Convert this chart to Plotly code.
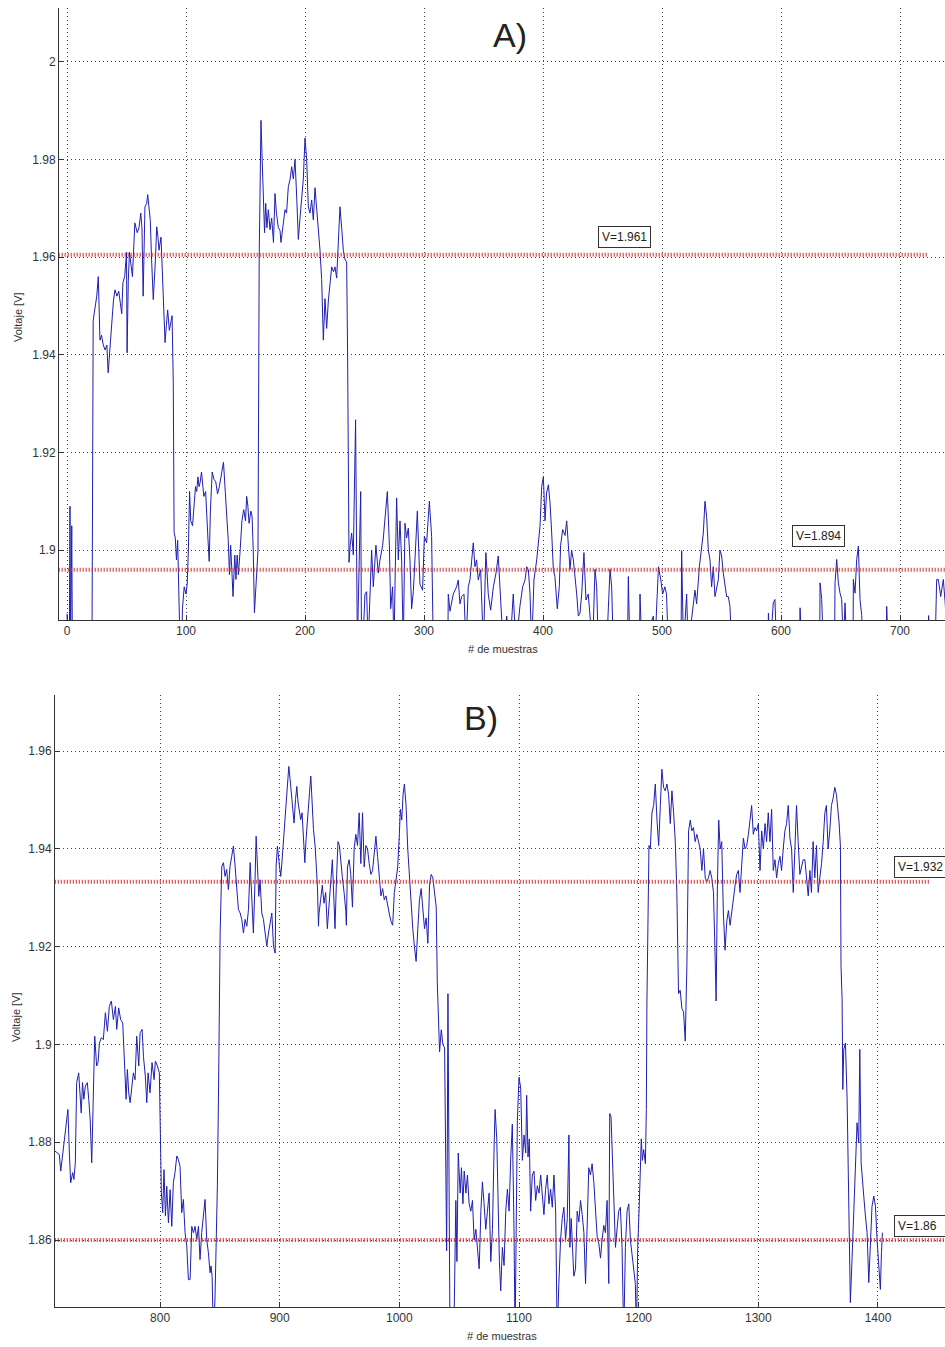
import plotly.graph_objects as go

# ---------------- Panel A data ----------------
a_samples = [0, 1, 2, 2.5, 3, 4, 4.5, 21, 22, 24, 25, 26.3, 27.7, 29, 30.5, 32, 33.5, 34.6, 36, 37.5, 39, 40.3, 42, 43.5, 45, 46, 47, 48.5, 50, 50.5, 51.5, 52.5, 54, 55, 57, 59, 60.5, 62, 63, 64, 65.5, 67, 67.8, 69, 70, 71, 72.5, 74, 75.4, 76.5, 77.3, 79, 80, 81, 82.4, 83.5, 84.6, 86, 87.4, 88.3, 89.3, 90, 91, 92, 93, 94, 95, 96.5, 97, 98.5, 100, 101, 102, 103, 104, 105.5, 107, 108, 109, 110, 111, 112, 113, 114, 115, 116.5, 117.5, 118.5, 119.5, 120.5, 122, 123.5, 125, 126.5, 128, 130, 131.5, 133, 134.5, 135.5, 136.5, 137.5, 138.5, 139.5, 141, 142, 143, 144, 145.5, 147, 148.5, 150, 151, 152, 153, 154.5, 155.5, 156.5, 157.5, 158.5, 159.5, 160.5, 161.5, 163, 164, 165, 166, 167, 168, 169.2, 170.6, 172, 173.5, 174.8, 176, 177.6, 179, 179.8, 181.8, 183.2, 184.5, 186, 187.5, 188.8, 190.2, 191.6, 193, 194.4, 195.8, 197.2, 198.6, 200, 201.4, 202.8, 204.2, 205.6, 207, 208.4, 209.8, 211.2, 212.6, 214, 215.4, 216.8, 218.2, 219.6, 221, 222.4, 224, 225.2, 226.6, 228, 229.4, 230.8, 232.2, 233.6, 235, 235.8, 236.4, 237, 238, 239.2, 240.6, 242.5, 244, 245.5, 246.8, 247.5, 248.5, 250.4, 251.8, 253, 256, 257.4, 259.6, 261.6, 263, 265.3, 267.2, 269.2, 270.9, 272, 273.6, 274.8, 275.6, 277, 278.4, 279.8, 281.2, 282.6, 284, 285.4, 286.8, 288.2, 289.6, 291, 292.4, 294.4, 296.6, 298.8, 300.3, 302.2, 304.5, 306.4, 307.8, 320, 320.4, 321.8, 324.6, 327.4, 328.8, 330.2, 331.6, 333.6, 335.3, 337.2, 338.6, 341.4, 342.8, 344.2, 345.6, 347.6, 349.9, 352, 354, 356, 358.3, 360.5, 362.4, 363.8, 366.6, 369.5, 372.3, 375, 377.3, 380.6, 382.9, 384.9, 386.3, 387.7, 389.1, 390.5, 392.4, 394.7, 396, 397.5, 398.9, 400.3, 401.7, 403, 404.5, 405.9, 407.3, 408.7, 410, 412, 413.7, 414.8, 416.5, 418.5, 419.9, 421.3, 422.7, 424, 425.5, 428.3, 429.7, 431.1, 432.5, 434.4, 436.1, 438, 439.5, 441.7, 443.7, 445.1, 446.5, 453.5, 456.3, 457.7, 459.1, 471, 471.7, 473, 481, 481.5, 483, 492.7, 494, 497, 499, 500.5, 502.4, 503.8, 505.3, 516, 516.5, 518, 520.7, 522, 527.7, 529.1, 531.4, 533.4, 534.7, 536.1, 537.5, 538.9, 540.3, 541.7, 543.1, 544.5, 547.3, 548.7, 550.1, 551.5, 552.9, 554.3, 555.7, 557.1, 558.5, 589, 589.4, 591, 593.5, 594.9, 596.3, 615.5, 616, 617.5, 632.5, 632.8, 634.2, 635.6, 645, 645.4, 646.8, 648.2, 649.6, 651, 652.4, 653.8, 655.2, 660.5, 660.8, 662.2, 663.6, 665, 666.4, 667.8, 669, 688.5, 688.8, 690, 723.5, 724, 725.5, 729.5, 730.8, 732.2, 734.2, 736.4, 738, 740]
a_voltage = [1.887, 1.880, 1.880, 1.909, 1.880, 1.905, 1.880, 1.880, 1.947, 1.950, 1.952, 1.956, 1.943, 1.944, 1.942, 1.941, 1.942, 1.9363, 1.941, 1.9466, 1.951, 1.9533, 1.952, 1.953, 1.950, 1.9484, 1.9548, 1.956, 1.961, 1.9404, 1.955, 1.961, 1.958, 1.956, 1.967, 1.965, 1.966, 1.969, 1.966, 1.952, 1.9703, 1.971, 1.9728, 1.970, 1.9675, 1.960, 1.9513, 1.958, 1.9662, 1.964, 1.9614, 1.9641, 1.958, 1.950, 1.9425, 1.946, 1.9492, 1.945, 1.947, 1.948, 1.9343, 1.9036, 1.9025, 1.898, 1.902, 1.892, 1.880, 1.880, 1.888, 1.8925, 1.891, 1.893, 1.900, 1.912, 1.906, 1.905, 1.909, 1.913, 1.912, 1.915, 1.913, 1.914, 1.916, 1.9125, 1.911, 1.912, 1.905, 1.902, 1.8977, 1.908, 1.916, 1.9145, 1.914, 1.9115, 1.913, 1.9155, 1.918, 1.912, 1.906, 1.902, 1.895, 1.901, 1.896, 1.8905, 1.899, 1.894, 1.899, 1.895, 1.900, 1.906, 1.9083, 1.906, 1.911, 1.909, 1.9055, 1.908, 1.907, 1.900, 1.8872, 1.892, 1.895, 1.900, 1.960, 1.988, 1.980, 1.9724, 1.965, 1.971, 1.966, 1.9697, 1.9656, 1.968, 1.963, 1.973, 1.969, 1.966, 1.9655, 1.963, 1.967, 1.9697, 1.969, 1.9744, 1.976, 1.9785, 1.976, 1.980, 1.9725, 1.9636, 1.968, 1.9723, 1.976, 1.9844, 1.980, 1.9703, 1.969, 1.9717, 1.9676, 1.9742, 1.970, 1.966, 1.9614, 1.9554, 1.943, 1.9515, 1.9454, 1.951, 1.954, 1.958, 1.957, 1.958, 1.9557, 1.964, 1.9703, 1.966, 1.9614, 1.9595, 1.959, 1.940, 1.909, 1.8975, 1.901, 1.9035, 1.899, 1.9267, 1.880, 1.8995, 1.912, 1.880, 1.880, 1.891, 1.8915, 1.880, 1.900, 1.8925, 1.901, 1.8953, 1.898, 1.901, 1.906, 1.912, 1.901, 1.888, 1.8925, 1.880, 1.8925, 1.9107, 1.898, 1.906, 1.898, 1.880, 1.9055, 1.9025, 1.9045, 1.898, 1.888, 1.8915, 1.898, 1.908, 1.893, 1.8918, 1.9028, 1.9015, 1.910, 1.9028, 1.880, 1.880, 1.891, 1.8875, 1.891, 1.8925, 1.8939, 1.889, 1.8905, 1.891, 1.880, 1.8925, 1.8939, 1.9015, 1.8966, 1.898, 1.8939, 1.896, 1.880, 1.8995, 1.891, 1.8877, 1.8925, 1.8953, 1.8988, 1.8925, 1.880, 1.8865, 1.880, 1.891, 1.880, 1.8885, 1.8925, 1.8939, 1.8966, 1.896, 1.891, 1.880, 1.8939, 1.898, 1.9008, 1.9049, 1.913, 1.915, 1.906, 1.9117, 1.9134, 1.9097, 1.9035, 1.896, 1.8946, 1.888, 1.8925, 1.901, 1.9042, 1.903, 1.906, 1.900, 1.896, 1.900, 1.898, 1.891, 1.8865, 1.8871, 1.891, 1.8995, 1.8898, 1.891, 1.8865, 1.880, 1.8961, 1.8925, 1.880, 1.880, 1.8961, 1.8925, 1.880, 1.880, 1.8946, 1.880, 1.880, 1.891, 1.880, 1.8865, 1.880, 1.8966, 1.8939, 1.891, 1.8925, 1.891, 1.880, 1.880, 1.8999, 1.880, 1.891, 1.880, 1.8918, 1.889, 1.8966, 1.9015, 1.9035, 1.9100, 1.9069, 1.9001, 1.898, 1.8925, 1.8966, 1.8905, 1.8939, 1.900, 1.8988, 1.8953, 1.8925, 1.8905, 1.8905, 1.8885, 1.880, 1.880, 1.8871, 1.880, 1.8892, 1.8899, 1.880, 1.880, 1.8882, 1.880, 1.880, 1.8933, 1.8899, 1.880, 1.880, 1.8933, 1.8981, 1.8933, 1.8912, 1.8899, 1.880, 1.8892, 1.880, 1.880, 1.894, 1.8912, 1.8981, 1.9008, 1.8899, 1.8866, 1.880, 1.880, 1.8885, 1.880, 1.880, 1.8866, 1.880, 1.880, 1.894, 1.894, 1.8905, 1.894, 1.889, 1.880]

# ---------------- Panel B data ----------------
b_samples = [712.2, 714, 715.8, 717, 718.5, 719.7, 721.4, 723, 724.2, 725.3, 727, 728, 729.2, 730.3, 732, 733, 734.1, 735.2, 736.3, 737.6, 739.2, 740.4, 741.6, 742.9, 744.3, 745.4, 747, 748.2, 749.3, 751, 752.6, 754.3, 756, 757.6, 759.3, 761, 762.7, 763.8, 765.4, 767.1, 768.8, 769.9, 771.6, 772.7, 773.8, 775, 776.6, 777.7, 779.1, 780.5, 782.2, 783.3, 785, 786.1, 787.7, 788.9, 790, 791.6, 793.3, 795, 796.1, 797.8, 799.4, 800, 801.1, 802.2, 803.3, 804.5, 805.6, 807, 808.4, 809.8, 811.1, 812.5, 814, 815.3, 816.7, 818.1, 819.5, 820.9, 822.3, 823.7, 825.1, 826.5, 827.9, 829.3, 830.7, 832.1, 833.4, 834.8, 836.2, 837.6, 839, 840.4, 841.8, 842.6, 843.5, 844.6, 845.9, 846.8, 847.9, 848.8, 849.9, 850.2, 851.6, 853, 854.3, 855.7, 857.1, 858.5, 859.9, 861.3, 862.7, 864.1, 865.5, 866.9, 868.3, 869.7, 871.1, 872.5, 873.9, 875.3, 876.7, 878, 879.4, 880.3, 881.4, 882.5, 883.6, 885, 886.4, 887.8, 889.2, 890.6, 892, 893.4, 894.8, 896.2, 897, 898.1, 899.8, 900.9, 902, 903.7, 905.4, 906.5, 907.6, 908.7, 909.8, 911, 912, 913.2, 914.3, 915.4, 916.5, 917.6, 918.7, 919.8, 921, 922, 923.2, 924.9, 926, 927.1, 928.2, 929.6, 930.4, 931.5, 932.4, 932.8, 934.2, 935.6, 937, 938.4, 939.8, 941.2, 942.6, 944, 945.4, 946.2, 947.6, 948.7, 949.9, 951, 952.4, 953.8, 955.2, 955.7, 956.6, 958, 959.4, 960.8, 962.2, 963.6, 965, 966.4, 967.8, 969.2, 970.6, 972, 973.4, 974.8, 976.2, 977.6, 979, 980.4, 981.8, 983.2, 984.6, 986, 987.4, 988.8, 990.2, 991.6, 993, 994.4, 995.8, 997.2, 998.6, 1000, 1000.8, 1002, 1003.1, 1004.2, 1005.6, 1007, 1008.4, 1009.8, 1011.2, 1012.6, 1014, 1015.4, 1016.8, 1018.2, 1019.6, 1021, 1022.4, 1023.8, 1025.2, 1026.6, 1028, 1029.4, 1030.8, 1031.7, 1032.8, 1033.6, 1035, 1036.4, 1037.8, 1038.7, 1039.5, 1040.1, 1040.6, 1041.5, 1042.3, 1045.5, 1046.2, 1047.2, 1048.1, 1049.2, 1050.8, 1051.9, 1053.1, 1054.2, 1055.6, 1056.9, 1058.3, 1059.7, 1061.1, 1062.5, 1063.9, 1065.3, 1066.7, 1068.1, 1069.4, 1070.8, 1072.2, 1073.6, 1075, 1076.4, 1077.8, 1079.2, 1080, 1081.4, 1082.5, 1083.6, 1084.7, 1086.1, 1087.5, 1088.9, 1090.3, 1091.7, 1093.1, 1094.4, 1095.8, 1096.7, 1097.8, 1098.6, 1100, 1101.4, 1102.8, 1104.2, 1105.6, 1106.4, 1107.5, 1108.6, 1109.7, 1111.1, 1112.5, 1113.9, 1115.3, 1116.7, 1118.1, 1119.4, 1120.8, 1122.2, 1123.6, 1125, 1126.4, 1127.8, 1129.2, 1130.6, 1131.9, 1133.3, 1134.7, 1136.1, 1137.5, 1138.9, 1140.3, 1141.7, 1142.5, 1143.6, 1144.7, 1145.8, 1147.2, 1148.6, 1150, 1151.4, 1152.8, 1154.2, 1155.6, 1156.9, 1158.3, 1159.7, 1161.1, 1162.5, 1163.9, 1165.3, 1166.7, 1168.1, 1169.4, 1170.8, 1172.2, 1173.6, 1175, 1175.8, 1176.9, 1178.1, 1179.2, 1180.6, 1181.9, 1183.3, 1184.7, 1186.1, 1187.5, 1188.9, 1190.3, 1191.7, 1193.1, 1194.4, 1195.8, 1197.2, 1198.1, 1199.2, 1200.3, 1201.4, 1202.2, 1203.1, 1204.2, 1205.6, 1206.4, 1206.9, 1207.8, 1208.6, 1209.7, 1211.1, 1212.5, 1213.9, 1215.3, 1216.7, 1218.1, 1219.4, 1220.8, 1222.2, 1223.6, 1225, 1226.4, 1227.8, 1229.2, 1230.6, 1231.9, 1233.3, 1234.7, 1236.1, 1237.5, 1238.9, 1240.3, 1241.7, 1243.1, 1244.4, 1245.8, 1247.2, 1248.6, 1250, 1251.4, 1252.8, 1254.2, 1255.6, 1256.9, 1258.3, 1259.7, 1261.1, 1262.5, 1263.9, 1264.7, 1265.8, 1266.9, 1268.1, 1269.4, 1270.8, 1272.2, 1273.6, 1275, 1276.4, 1277.8, 1279.2, 1280.6, 1281.9, 1283.3, 1284.7, 1286.1, 1287.5, 1288.9, 1290.3, 1291.7, 1293.1, 1294.4, 1295.8, 1297.2, 1298.6, 1300, 1301.4, 1302.8, 1304.2, 1305.6, 1306.9, 1308.3, 1309.7, 1311.1, 1312.5, 1313.9, 1315.3, 1316.7, 1318.1, 1319.4, 1320.8, 1322.2, 1323.6, 1325, 1326.4, 1327.8, 1329.2, 1330.6, 1331.9, 1333.3, 1334.7, 1336.1, 1337.5, 1338.9, 1340.3, 1341.7, 1343.1, 1344.4, 1345.8, 1347.2, 1348.6, 1350, 1351.4, 1352.8, 1354.2, 1355.6, 1356.9, 1358.3, 1359.7, 1361.1, 1362.5, 1363.9, 1365.3, 1366.7, 1367.5, 1368.6, 1369.1, 1370, 1370.6, 1371.4, 1372.8, 1374.2, 1375, 1375.8, 1376.9, 1378.3, 1379.7, 1381.1, 1382.5, 1383.9, 1384.8, 1385.9, 1387, 1388.1, 1389.5, 1390.9, 1392.3, 1393.7, 1395, 1396.5, 1397.9, 1399.2, 1400.6, 1402, 1402.9, 1403.7]
b_voltage = [1.8782, 1.8778, 1.8775, 1.8741, 1.8772, 1.8799, 1.8826, 1.8867, 1.8778, 1.8717, 1.8738, 1.8724, 1.8758, 1.8922, 1.8942, 1.8894, 1.886, 1.8922, 1.8888, 1.8915, 1.8922, 1.8888, 1.8847, 1.8758, 1.8915, 1.9017, 1.8956, 1.8963, 1.9003, 1.9014, 1.901, 1.9065, 1.9027, 1.9078, 1.9089, 1.9051, 1.9078, 1.9031, 1.9075, 1.9051, 1.9044, 1.899, 1.8888, 1.8949, 1.8901, 1.8881, 1.8922, 1.8942, 1.8928, 1.9017, 1.8956, 1.9024, 1.9031, 1.8976, 1.8935, 1.8881, 1.8942, 1.8901, 1.8963, 1.8928, 1.8966, 1.8956, 1.8942, 1.8833, 1.8697, 1.8656, 1.8744, 1.8649, 1.871, 1.8635, 1.8703, 1.8628, 1.8717, 1.8738, 1.8772, 1.8765, 1.8751, 1.8656, 1.8683, 1.8615, 1.8588, 1.8519, 1.8519, 1.8628, 1.8615, 1.8628, 1.8601, 1.8628, 1.856, 1.8615, 1.8649, 1.8683, 1.8601, 1.8574, 1.8533, 1.8547, 1.8526, 1.840, 1.8479, 1.856, 1.871, 1.8888, 1.9112, 1.9228, 1.9365, 1.9372, 1.9344, 1.9358, 1.9317, 1.9365, 1.9385, 1.9406, 1.9365, 1.9324, 1.9276, 1.9269, 1.9256, 1.9228, 1.9256, 1.9242, 1.9276, 1.9372, 1.9303, 1.9228, 1.9337, 1.9426, 1.9365, 1.9303, 1.9337, 1.9269, 1.9256, 1.9228, 1.9201, 1.9228, 1.9249, 1.9269, 1.9201, 1.9187, 1.9365, 1.9406, 1.9365, 1.9344, 1.9378, 1.9433, 1.9487, 1.9521, 1.9569, 1.9542, 1.9515, 1.9474, 1.9453, 1.9501, 1.9528, 1.9494, 1.9474, 1.946, 1.9474, 1.9419, 1.9372, 1.9419, 1.9467, 1.9515, 1.9549, 1.9487, 1.944, 1.9406, 1.9365, 1.9324, 1.9242, 1.9267, 1.9296, 1.9326, 1.9289, 1.9311, 1.9237, 1.9281, 1.9341, 1.9378, 1.9289, 1.9237, 1.9348, 1.9415, 1.9407, 1.937, 1.9341, 1.9311, 1.9274, 1.9244, 1.9363, 1.9378, 1.9348, 1.9281, 1.94, 1.943, 1.9407, 1.9474, 1.937, 1.9474, 1.9363, 1.9407, 1.94, 1.937, 1.9348, 1.9356, 1.94, 1.9426, 1.9385, 1.9341, 1.9304, 1.9319, 1.9296, 1.9304, 1.9281, 1.9267, 1.9252, 1.9244, 1.9311, 1.9333, 1.9363, 1.943, 1.9481, 1.9459, 1.9511, 1.9533, 1.9489, 1.94, 1.9341, 1.9289, 1.9237, 1.92, 1.917, 1.9237, 1.9296, 1.9319, 1.9267, 1.9237, 1.9259, 1.9207, 1.9326, 1.9348, 1.9341, 1.9304, 1.9281, 1.9126, 1.903, 1.8985, 1.903, 1.9, 1.8993, 1.8733, 1.8578, 1.8807, 1.9104, 1.8733, 1.840, 1.840, 1.8556, 1.8681, 1.8556, 1.8778, 1.8696, 1.8748, 1.8674, 1.8741, 1.8696, 1.8733, 1.8674, 1.8659, 1.8681, 1.86, 1.8622, 1.8585, 1.8541, 1.8659, 1.8719, 1.8674, 1.8622, 1.8659, 1.8696, 1.8556, 1.8622, 1.8793, 1.8867, 1.8807, 1.8659, 1.8556, 1.8496, 1.8585, 1.8548, 1.8659, 1.8704, 1.8659, 1.877, 1.8837, 1.8622, 1.840, 1.8659, 1.8844, 1.8933, 1.8911, 1.8763, 1.8815, 1.8778, 1.8896, 1.877, 1.8807, 1.8659, 1.8733, 1.8741, 1.8681, 1.8711, 1.8696, 1.8733, 1.8689, 1.8652, 1.8704, 1.8733, 1.8674, 1.8704, 1.8667, 1.8733, 1.8659, 1.840, 1.8511, 1.86, 1.8644, 1.8667, 1.86, 1.8644, 1.8815, 1.8585, 1.8644, 1.857, 1.8526, 1.8541, 1.8659, 1.8637, 1.8681, 1.8652, 1.8615, 1.8511, 1.8615, 1.8748, 1.8733, 1.8756, 1.8719, 1.8667, 1.8607, 1.8593, 1.8563, 1.86, 1.863, 1.8615, 1.8681, 1.8511, 1.8859, 1.8852, 1.877, 1.8696, 1.8585, 1.8622, 1.8659, 1.8667, 1.8585, 1.840, 1.8585, 1.8659, 1.8674, 1.86, 1.857, 1.8541, 1.8511, 1.840, 1.8585, 1.8659, 1.8733, 1.8807, 1.8763, 1.8785, 1.8756, 1.8867, 1.9089, 1.9326, 1.9407, 1.94, 1.9474, 1.9489, 1.9533, 1.9459, 1.9407, 1.9489, 1.9563, 1.9526, 1.9519, 1.9533, 1.9511, 1.9452, 1.9519, 1.9474, 1.9415, 1.9311, 1.9104, 1.9111, 1.9074, 1.9067, 1.9007, 1.9163, 1.9437, 1.9459, 1.9437, 1.9444, 1.9415, 1.943, 1.9415, 1.94, 1.9356, 1.94, 1.9341, 1.9333, 1.9341, 1.9356, 1.9341, 1.9311, 1.9178, 1.9089, 1.9326, 1.9459, 1.94, 1.9415, 1.9267, 1.9193, 1.9252, 1.9274, 1.9244, 1.9274, 1.9296, 1.9326, 1.9348, 1.9356, 1.9311, 1.937, 1.9422, 1.94, 1.9407, 1.943, 1.9459, 1.9489, 1.943, 1.9444, 1.9437, 1.9452, 1.9356, 1.9437, 1.94, 1.9452, 1.9415, 1.9474, 1.9415, 1.9481, 1.9356, 1.9378, 1.9341, 1.937, 1.9385, 1.9356, 1.94, 1.9437, 1.9452, 1.9489, 1.9422, 1.94, 1.9311, 1.94, 1.9489, 1.9415, 1.9348, 1.9363, 1.9378, 1.9378, 1.9341, 1.9304, 1.9356, 1.9311, 1.9415, 1.9341, 1.9407, 1.9311, 1.9341, 1.937, 1.9415, 1.9474, 1.9489, 1.94, 1.9437, 1.9489, 1.9504, 1.9526, 1.9511, 1.9474, 1.9453, 1.9406, 1.916, 1.9092, 1.8908, 1.899, 1.9003, 1.8888, 1.8751, 1.8601, 1.8472, 1.856, 1.8669, 1.8772, 1.884, 1.8799, 1.899, 1.8758, 1.8717, 1.869, 1.8649, 1.8615, 1.8513, 1.8615, 1.8669, 1.869, 1.8669, 1.8601, 1.8547, 1.8499, 1.8574, 1.8615]

# ---------------- Threshold levels and labels ----------------
a_levels = [1.9605, 1.896]
a_level_start = [-7, -7]
a_level_end = [723, 745]
a_level_labels = ["V=1.961", "V=1.894"]
a_label_x = [446.5, 609.0]
a_label_y = [1.9642, 1.9029]

b_levels = [1.9333, 1.86]
b_level_start = [712, 712]
b_level_end = [1444, 1460]
b_level_labels = ["V=1.932 ", "V=1.86   "]
b_label_x = [1413.0, 1413.5]
b_label_y = [1.9363, 1.8629]

# ---------------- Ticks ----------------
a_xticks = [0, 100, 200, 300, 400, 500, 600, 700]
a_yticks = [1.9, 1.92, 1.94, 1.96, 1.98, 2.0]
a_ytick_text = ["1.9", "1.92", "1.94", "1.96", "1.98", "2"]
b_xticks = [800, 900, 1000, 1100, 1200, 1300, 1400]
b_yticks = [1.86, 1.88, 1.9, 1.92, 1.94, 1.96]
b_ytick_text = ["1.86", "1.88", "1.9", "1.92", "1.94", "1.96"]

# ---------------- Styling ----------------
W, H = 945, 1347
FONT = "Arial, 'Liberation Sans', sans-serif"
DATA_COLOR = "#1e1eb4"
THR_COLOR = "#c83030"
AX_COLOR = "#333333"
GRID_COLOR = "#444444"

fig = go.Figure()

fig.add_trace(go.Scatter(x=a_samples, y=a_voltage, mode="lines",
                         line=dict(color=DATA_COLOR, width=1),
                         xaxis="x", yaxis="y", hoverinfo="skip"))
fig.add_trace(go.Scatter(x=b_samples, y=b_voltage, mode="lines",
                         line=dict(color=DATA_COLOR, width=1),
                         xaxis="x2", yaxis="y2", hoverinfo="skip"))

for v, x0, x1 in zip(a_levels, a_level_start, a_level_end):
    fig.add_trace(go.Scatter(x=[x0, x1], y=[v, v], mode="lines",
                             line=dict(color=THR_COLOR, width=4, dash="1px,2px"),
                             xaxis="x", yaxis="y", hoverinfo="skip"))
for v, x0, x1 in zip(b_levels, b_level_start, b_level_end):
    fig.add_trace(go.Scatter(x=[x0, x1], y=[v, v], mode="lines",
                             line=dict(color=THR_COLOR, width=4, dash="1px,2px"),
                             xaxis="x2", yaxis="y2", hoverinfo="skip"))

axis_common = dict(
    showline=True, linecolor=AX_COLOR, linewidth=1, mirror=False,
    ticks="inside", ticklen=5, tickwidth=1, tickcolor=AX_COLOR,
    showgrid=True, gridcolor=GRID_COLOR, gridwidth=1, griddash="1px,3px",
    zeroline=False, tickfont=dict(family=FONT, size=12, color="#333333"),
    fixedrange=True,
)

fig.update_layout(
    width=W, height=H,
    margin=dict(l=0, r=0, t=0, b=0),
    paper_bgcolor="white", plot_bgcolor="white",
    showlegend=False, hovermode=False,
    font=dict(family=FONT, color="#222222"),
    xaxis=dict(domain=[59 / W, 1.0], anchor="y", range=[-6.72, 737.8],
               tickmode="array", tickvals=a_xticks, **axis_common),
    yaxis=dict(domain=[1 - 620 / H, 1 - 8 / H], anchor="x", range=[1.8857, 2.011],
               tickmode="array", tickvals=a_yticks, ticktext=a_ytick_text, **axis_common),
    xaxis2=dict(domain=[55 / W, 1.0], anchor="y2", range=[712.2, 1456.0],
                tickmode="array", tickvals=b_xticks, **axis_common),
    yaxis2=dict(domain=[1 - 1307 / H, 1 - 695 / H], anchor="x2", range=[1.8463, 1.9715],
                tickmode="array", tickvals=b_yticks, ticktext=b_ytick_text, **axis_common),
)

annotations = []
box_style = dict(showarrow=False, xanchor="left", yanchor="middle",
                 font=dict(family=FONT, size=12, color="#222222"),
                 bgcolor="white", bordercolor="#333333", borderwidth=1, borderpad=3)
for t, x, y in zip(a_level_labels, a_label_x, a_label_y):
    annotations.append(dict(text=t, x=x, y=y, xref="x", yref="y", **box_style))
for t, x, y in zip(b_level_labels, b_label_x, b_label_y):
    annotations.append(dict(text=t, x=x, y=y, xref="x2", yref="y2", **box_style))

# Panel titles
annotations.append(dict(text="A)", x=510 / W, y=1 - 35 / H, xref="paper", yref="paper",
                        showarrow=False, xanchor="center", yanchor="middle",
                        font=dict(family=FONT, size=34, color="#222222")))
annotations.append(dict(text="B)", x=481 / W, y=1 - 718 / H, xref="paper", yref="paper",
                        showarrow=False, xanchor="center", yanchor="middle",
                        font=dict(family=FONT, size=34, color="#222222")))
# Axis titles
for xp, yp in [(503, 649), (502, 1336)]:
    annotations.append(dict(text="# de muestras", x=xp / W, y=1 - yp / H, xref="paper", yref="paper",
                            showarrow=False, xanchor="center", yanchor="middle",
                            font=dict(family=FONT, size=11, color="#333333")))
for xp, yp in [(18, 317), (16, 1017)]:
    annotations.append(dict(text="Voltaje [V]", x=xp / W, y=1 - yp / H, xref="paper", yref="paper",
                            showarrow=False, xanchor="center", yanchor="middle", textangle=-90,
                            font=dict(family=FONT, size=11, color="#333333")))

fig.update_layout(annotations=annotations)

fig.write_html("out.html", config={"displayModeBar": False, "staticPlot": True})
